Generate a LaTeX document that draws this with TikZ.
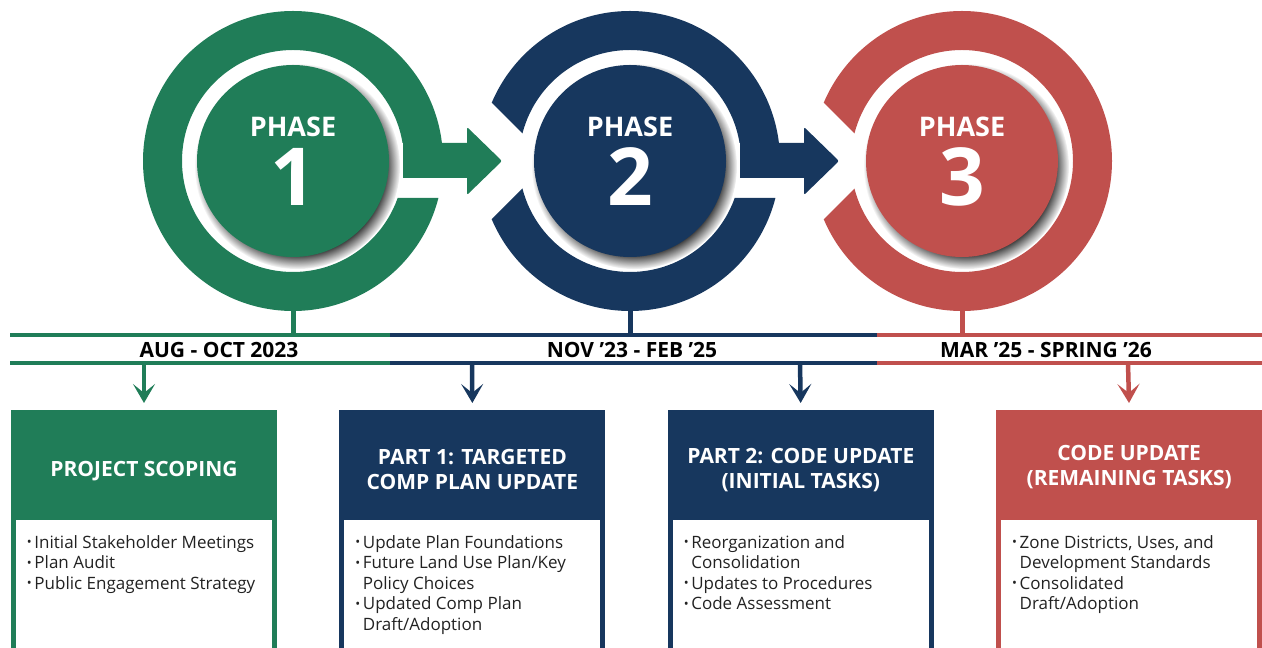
\documentclass[tikz,border=0pt]{standalone}
\usepackage{fontspec}
\setmainfont{Open Sans}
\usepackage{tikz}
\usetikzlibrary{positioning}
\usetikzlibrary{arrows.meta}
\usetikzlibrary{shadows}

\definecolor{pgreen}{HTML}{207D58}
\definecolor{pblue}{HTML}{17375E}
\definecolor{pred}{HTML}{C0504D}
\definecolor{ptext}{HTML}{222222}

\newcommand{\bul}{\makebox[7.5pt][l]{\raisebox{1.5pt}{\fontsize{13}{13}\selectfont\textbullet}}}
\newcommand{\ind}{\hspace*{7.5pt}}

\begin{document}
\begin{tikzpicture}[x=1pt,y=1pt,
    disc/.style={circle,minimum size=192pt,inner sep=0pt,
        circular drop shadow={shadow scale=1.07,shadow xshift=4pt,shadow yshift=-5pt,fill=black,opacity=0.8}},
    phasetxt/.style={text=white,inner sep=0pt,font=\fontsize{27}{27}\selectfont\bfseries},
    phasenum/.style={text=white,inner sep=0pt,font=\fontsize{80}{80}\selectfont\bfseries},
    datetxt/.style={inner sep=0pt,font=\fontsize{21}{21}\selectfont\bfseries},
    rail/.style={line width=4pt},
    ringstem/.style={line width=5pt},
    downarrow/.style={line width=4.5pt,-{Stealth[length=19pt,width=22pt,inset=9pt]},shorten >=7pt},
    taskframe/.style={anchor=north,minimum width=266pt,minimum height=250pt,inner sep=0pt},
    taskbody/.style={anchor=north,fill=white,minimum width=256pt,minimum height=140pt,inner sep=0pt},
    tasktitle/.style={text=white,align=center,inner sep=0pt,font=\fontsize{21}{25}\selectfont\bfseries},
    tasklist/.style={anchor=north west,align=left,inner sep=0pt,text=ptext,font=\fontsize{17}{20.5}\selectfont}
]
    \useasboundingbox (0,0) rectangle (1262,648);
    \clip (0,0) rectangle (1262,648);

    %Rings
    \coordinate (c1) at (293,487);
    \coordinate (c2) at (630,487);
    \coordinate (c3) at (962,487);
    \begin{scope}[shift={(c1)}]
        \begin{scope}
            \clip (-160,-160) -- (160,-160) -- (160,-37) -- (0,-37) -- (0,18) -- (160,18) -- (160,160) -- (-160,160) -- cycle;
            \fill[pgreen,even odd rule] (0,0) circle (150) (0,0) circle (111);
        \end{scope}
        \fill[pgreen] (110,18) -- (174,18) [rounded corners=2pt] -- (174,34) -- (209,0) -- (174,-34) [sharp corners] -- (174,-17) -- (110,-17) -- cycle;
    \end{scope}
    \begin{scope}[shift={(c2)}]
        \begin{scope}
            \clip (-80,0) -- (-280,200) -- (160,200) -- (160,18) -- (0,18) -- (0,-37) -- (160,-37) -- (160,-200) -- (-280,-200) -- cycle;
            \fill[pblue,even odd rule] (0,0) circle (150) (0,0) circle (111);
        \end{scope}
        \fill[pblue] (110,18) -- (174,18) [rounded corners=2pt] -- (174,34) -- (209,0) -- (174,-34) [sharp corners] -- (174,-17) -- (110,-17) -- cycle;
    \end{scope}
    \begin{scope}[shift={(c3)}]
        \clip (-80,0) -- (-280,200) -- (160,200) -- (160,-200) -- (-280,-200) -- cycle;
        \fill[pred,even odd rule] (0,0) circle (150) (0,0) circle (111);
    \end{scope}

    %Phases
    \node[disc,fill=pgreen] (p1) at (c1) {};
    \node[disc,fill=pblue] (p2) at (c2) {};
    \node[disc,fill=pred] (p3) at (c3) {};
    \node[phasetxt] at ([yshift=34pt]p1.center) {PHASE};
    \node[phasenum] at ([yshift=-16pt]p1.center) {1};
    \node[phasetxt] at ([yshift=34pt]p2.center) {PHASE};
    \node[phasenum] at ([yshift=-16pt]p2.center) {2};
    \node[phasetxt] at ([yshift=34pt]p3.center) {PHASE};
    \node[phasenum] at ([yshift=-16pt]p3.center) {3};

    %Timeline
    \draw[rail,pgreen] (10,313) -- (390,313) (10,285) -- (390,285);
    \draw[rail,pblue] (390,313) -- (877,313) (390,285) -- (877,285);
    \draw[rail,pred] (877,313) -- (1262,313) (877,285) -- (1262,285);
    \coordinate (t1) at (293,313);
    \coordinate (t2) at (630,313);
    \coordinate (t3) at (962,313);
    \draw[ringstem,pgreen] ([yshift=-148pt]p1.center) -- (t1);
    \draw[ringstem,pblue] ([yshift=-148pt]p2.center) -- (t2);
    \draw[ringstem,pred] ([yshift=-148pt]p3.center) -- (t3);
    \node[datetxt] (d1) at (219,298) {AUG - OCT 2023};
    \node[datetxt] (d2) at (632,298) {NOV '23 - FEB '25};
    \node[datetxt] (d3) at (1046,298) {MAR '25 - SPRING '26};

    %Boxes
    \node[taskframe,fill=pgreen] (b1) at (144,238) {};
    \node[taskframe,fill=pblue,right=62pt of b1] (b2) {};
    \node[taskframe,fill=pblue,right=62pt of b2] (b3) {};
    \node[taskframe,fill=pred,right=62pt of b3] (b4) {};
    \node[taskbody] (w1) at ([yshift=-110pt]b1.north) {};
    \node[taskbody] (w2) at ([yshift=-110pt]b2.north) {};
    \node[taskbody] (w3) at ([yshift=-110pt]b3.north) {};
    \node[taskbody] (w4) at ([yshift=-110pt]b4.north) {};
    \node[tasktitle] at ([yshift=-61pt]b1.north) {PROJECT SCOPING};
    \node[tasktitle] at ([yshift=-60pt]b2.north) {PART 1: TARGETED\\COMP PLAN UPDATE};
    \node[tasktitle] at ([yshift=-60pt]b3.north) {PART 2: CODE UPDATE\\(INITIAL TASKS)};
    \node[tasktitle] at ([yshift=-57pt]b4.north) {CODE UPDATE\\(REMAINING TASKS)};
    \node[tasklist] at ([xshift=11pt,yshift=-15pt]w1.north west)
        {\bul Initial Stakeholder Meetings\\\bul Plan Audit\\\bul Public Engagement Strategy};
    \node[tasklist] at ([xshift=11pt,yshift=-15pt]w2.north west)
        {\bul Update Plan Foundations\\\bul Future Land Use Plan/Key\\\ind Policy Choices\\\bul Updated Comp Plan\\\ind Draft/Adoption};
    \node[tasklist] at ([xshift=11pt,yshift=-15pt]w3.north west)
        {\bul Reorganization and\\\ind Consolidation\\\bul Updates to Procedures\\\bul Code Assessment};
    \node[tasklist] at ([xshift=11pt,yshift=-15pt]w4.north west)
        {\bul Zone Districts, Uses, and\\\ind Development Standards\\\bul Consolidated\\\ind Draft/Adoption};

    %Arrows
    \coordinate (a1) at (144,285);
    \coordinate (a2) at (472,285);
    \coordinate (a3) at (800,285);
    \coordinate (a4) at (1128,285);
    \draw[downarrow,pgreen] (a1) -- (b1.north);
    \draw[downarrow,pblue] (a2) -- (b2.north);
    \draw[downarrow,pblue] (a3) -- (b3.north);
    \draw[downarrow,pred] (a4) -- (b4.north);
\end{tikzpicture}
\end{document}
